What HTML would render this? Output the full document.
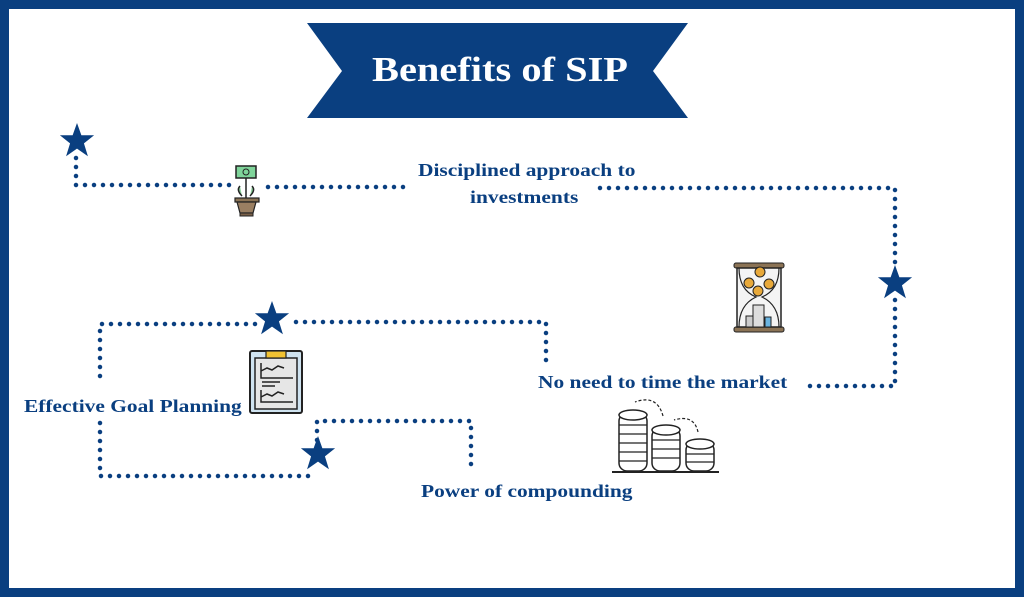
<!DOCTYPE html>
<html><head><meta charset="utf-8"><style>
html,body{margin:0;padding:0;}
body{width:1024px;height:597px;position:relative;background:#fff;overflow:hidden;font-family:"Liberation Serif",serif;}
.frame{position:absolute;left:0;top:0;width:1024px;height:597px;box-sizing:border-box;border:9px solid #0a3f80;}
.t{position:absolute;color:#0a3f80;font-weight:bold;font-size:18px;white-space:nowrap;transform:scaleX(1.19);transform-origin:0 0;}
</style></head><body>
<div class="frame"></div>
<svg width="1024" height="597" style="position:absolute;left:0;top:0">
<defs>
<symbol id="star" viewBox="-20 -20 40 40"><polygon points="0,-19 4.6,-6 18,-6 7.3,2.5 11.5,16 0,8 -11.5,16 -7.3,2.5 -18,-6 -4.6,-6" fill="#0a3f80"/></symbol>
</defs>
<polygon points="307,23 688,23 653,71 688,118 307,118 342,71" fill="#0a3f80"/>
<text x="372" y="81" textLength="256" lengthAdjust="spacingAndGlyphs" fill="#fff" font-family="Liberation Serif" font-weight="bold" font-size="35">Benefits of SIP</text>
<g stroke="#0a3f80" stroke-width="4.5" stroke-linecap="round" stroke-dasharray="0 9" fill="none">
<path d="M76 158 V185 H232"/>
<path d="M268 187 H412"/>
<path d="M600 188 H895 V268"/>
<path d="M895 300 V386 H805"/>
<path d="M546 360 V322 H290"/>
<path d="M255 324 H100 V380"/>
<path d="M100 423 V476 H315"/>
<path d="M317 440 V421 H471 V472"/>
</g>
<use href="#star" x="58" y="122" width="38" height="38"/>
<use href="#star" x="876" y="264" width="38" height="38"/>
<use href="#star" x="253" y="300" width="38" height="38"/>
<use href="#star" x="299" y="435" width="38" height="38"/>
<!-- plant icon -->
<rect x="236" y="166" width="20" height="12" fill="#7fd49a" stroke="#222" stroke-width="1.5"/>
<circle cx="246" cy="172" r="3" fill="none" stroke="#222" stroke-width="1"/>
<path d="M246 178 V198 M240 186 q-4 4 2 10 M252 186 q4 4 -2 10" stroke="#222" stroke-width="1.5" fill="#8fd19e"/>
<rect x="235" y="198" width="24" height="4" fill="#8b7355" stroke="#222" stroke-width="1.2"/>
<path d="M237 202 L240 213 H253 L256 202 Z" fill="#9a7f62" stroke="#222" stroke-width="1.2"/>
<rect x="240" y="213" width="13" height="3" fill="#7a6048" stroke="#222" stroke-width="1"/>
<!-- hourglass -->
<rect x="734" y="263" width="50" height="5" rx="2" fill="#8b7355" stroke="#222"/>
<rect x="734" y="327" width="50" height="5" rx="2" fill="#8b7355" stroke="#222"/>
<rect x="737" y="268" width="44" height="59" fill="#f4f4f4" stroke="#222" stroke-width="1.5"/>
<path d="M739 268 Q739 290 756 297 Q739 305 739 327 M779 268 Q779 290 762 297 Q779 305 779 327" stroke="#222" stroke-width="1.2" fill="none"/>
<circle cx="760" cy="272" r="5" fill="#e8a93a" stroke="#222"/>
<circle cx="749" cy="283" r="5" fill="#e8a93a" stroke="#222"/>
<circle cx="769" cy="284" r="5" fill="#e8a93a" stroke="#222"/>
<circle cx="758" cy="291" r="5" fill="#e8a93a" stroke="#222"/>
<rect x="753" y="305" width="11" height="22" fill="#ddd" stroke="#222"/>
<rect x="746" y="316" width="7" height="11" fill="#ccc" stroke="#222"/>
<rect x="765" y="317" width="6" height="10" fill="#6ab4e0" stroke="#222"/>
<!-- clipboard -->
<rect x="250" y="351" width="52" height="62" rx="2" fill="#cfe3f0" stroke="#222" stroke-width="2"/>
<rect x="255" y="358" width="42" height="51" fill="#e6e6e6" stroke="#222" stroke-width="1.5"/>
<rect x="266" y="351" width="20" height="7" fill="#f1c232" stroke="#222" stroke-width="1.2"/>
<path d="M261 363 V378 H293 M261 371 l6 -3 5 2 6 -4 6 2 M262 382 H280 M262 386 H275 M261 390 V402 H293 M261 397 l6 -3 5 2 6 -4 6 2" stroke="#222" stroke-width="1.5" fill="none"/>
<!-- coins -->
<g fill="#fff" stroke="#222" stroke-width="1.5">
<rect x="619" y="413" width="28" height="58" rx="8"/>
<ellipse cx="633" cy="415" rx="14" ry="5"/>
<rect x="652" y="428" width="28" height="43" rx="8"/>
<ellipse cx="666" cy="430" rx="14" ry="5"/>
<rect x="686" y="442" width="28" height="29" rx="8"/>
<ellipse cx="700" cy="444" rx="14" ry="5"/>
</g>
<g stroke="#222" stroke-width="1.2">
<path d="M619 425 h28 M619 434 h28 M619 443 h28 M619 452 h28 M619 461 h28 M652 440 h28 M652 449 h28 M652 458 h28 M686 454 h28 M686 462 h28"/>
<path d="M612 472 H719" stroke-width="2"/>
<path d="M663 416 q-6 -22 -28 -14 M698 432 q-4 -18 -24 -12" fill="none" stroke-dasharray="3 2"/>
</g>
</svg>
<div class="t" style="left:418px;top:160px">Disciplined approach to</div>
<div class="t" style="left:470px;top:187px">investments</div>
<div class="t" style="left:538px;top:372px">No need to time the market</div>
<div class="t" style="left:24px;top:396px">Effective Goal Planning</div>
<div class="t" style="left:421px;top:481px">Power of compounding</div>
</body></html>
